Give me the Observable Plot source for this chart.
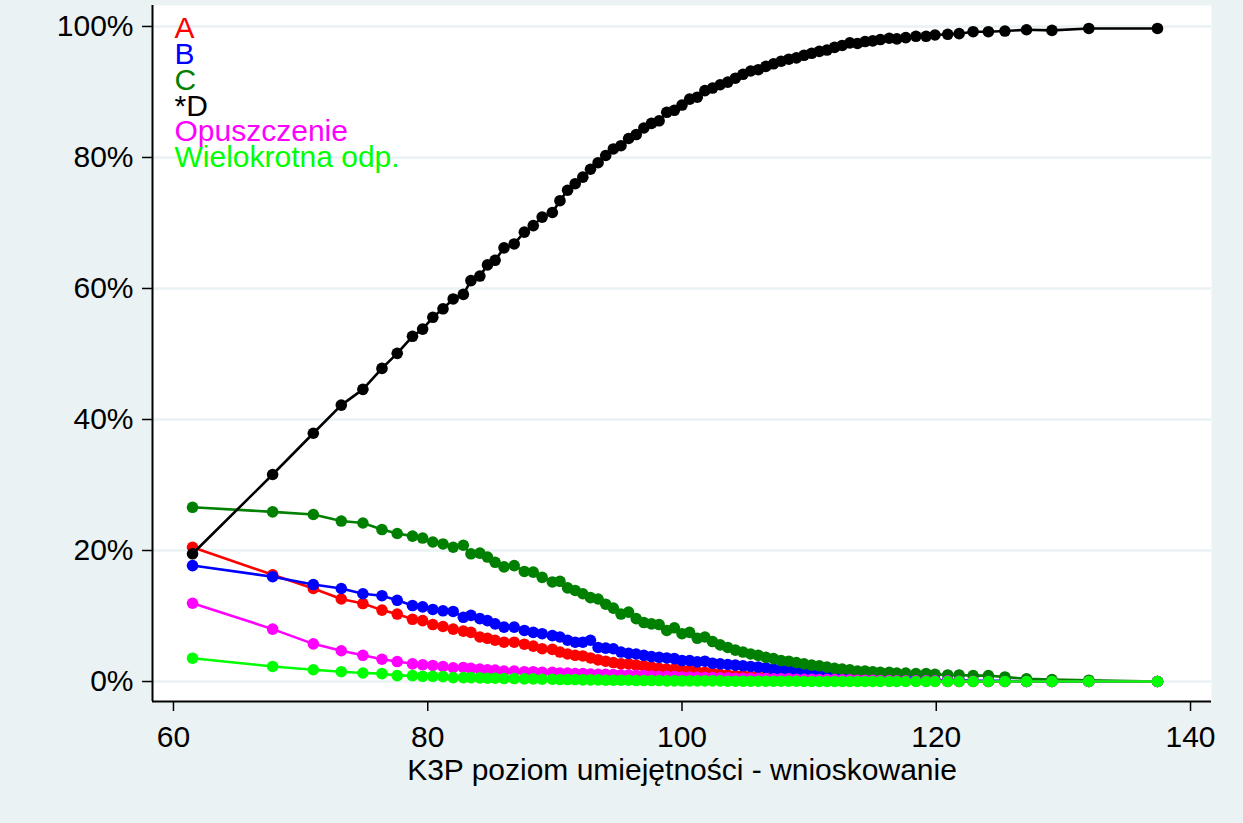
<!DOCTYPE html>
<html>
<head>
<meta charset="utf-8">
<script src="https://cdn.jsdelivr.net/npm/d3@7"></script>
<script src="https://cdn.jsdelivr.net/npm/@observablehq/plot@0.6"></script>
<style>
  html, body { margin: 0; padding: 0; background: #EAF2F3; overflow: hidden; }
</style>
</head>
<body>
<div id="chart"></div>
<script>
// Skill level (x) at which the response proportions were computed
const xs = [61.5, 67.8, 71.0, 73.2, 74.9, 76.4, 77.6, 78.8, 79.6, 80.4, 81.2, 82.0, 82.8, 83.4, 84.1, 84.7, 85.3, 86.0, 86.8, 87.6, 88.3, 89.0, 89.8, 90.4, 91.0, 91.6, 92.2, 92.8, 93.4, 94.0, 94.6, 95.2, 95.8, 96.4, 97.0, 97.6, 98.2, 98.8, 99.4, 100.0, 100.6, 101.2, 101.8, 102.4, 103.0, 103.6, 104.2, 104.8, 105.4, 106.0, 106.6, 107.2, 107.8, 108.4, 109.0, 109.6, 110.2, 110.8, 111.4, 112.0, 112.6, 113.2, 113.8, 114.4, 115.0, 115.6, 116.3, 116.9, 117.6, 118.4, 119.2, 119.9, 120.9, 121.8, 122.9, 124.1, 125.4, 127.1, 129.1, 132.0, 137.4];

// Percent choosing each option
const seriesA = [20.5, 16.3, 14.2, 12.6, 11.9, 10.9, 10.3, 9.5, 9.3, 8.7, 8.4, 8.0, 7.7, 7.5, 6.8, 6.6, 6.3, 6.0, 6.0, 5.7, 5.4, 5.0, 4.9, 4.5, 4.2, 4.0, 3.9, 3.6, 3.3, 3.1, 2.9, 2.7, 2.7, 2.5, 2.4, 2.2, 2.0, 1.9, 1.9, 1.7, 1.7, 1.5, 1.4, 1.3, 1.1, 1.0, 0.9, 0.9, 0.8, 0.7, 0.7, 0.6, 0.6, 0.5, 0.5, 0.4, 0.4, 0.4, 0.3, 0.3, 0.3, 0.2, 0.2, 0.2, 0.2, 0.1, 0.1, 0.1, 0.1, 0.1, 0.1, 0.1, 0.0, 0.0, 0.0, 0.0, 0.0, 0.0, 0.0, 0.0, 0.0];
const seriesB = [17.7, 16.0, 14.8, 14.2, 13.4, 13.1, 12.4, 11.6, 11.4, 11.0, 10.8, 10.7, 9.8, 10.1, 9.6, 9.3, 8.8, 8.3, 8.3, 7.8, 7.5, 7.3, 7.0, 6.8, 6.3, 6.0, 6.0, 6.3, 5.2, 5.1, 5.0, 4.5, 4.3, 4.2, 4.0, 3.8, 3.7, 3.6, 3.5, 3.2, 3.2, 3.0, 3.1, 2.8, 2.7, 2.6, 2.5, 2.4, 2.3, 2.2, 2.1, 1.9, 1.8, 1.8, 1.7, 1.6, 1.5, 1.4, 1.3, 1.2, 1.0, 0.9, 0.8, 0.7, 0.6, 0.5, 0.5, 0.4, 0.4, 0.3, 0.3, 0.2, 0.2, 0.2, 0.1, 0.1, 0.1, 0.0, 0.0, 0.0, 0.0];
const seriesC = [26.6, 25.9, 25.5, 24.5, 24.2, 23.2, 22.6, 22.2, 21.9, 21.3, 21.0, 20.5, 20.8, 19.5, 19.6, 19.0, 18.2, 17.5, 17.7, 16.8, 16.7, 15.9, 15.2, 15.3, 14.3, 13.9, 13.4, 12.8, 12.6, 11.8, 11.2, 10.3, 10.6, 9.6, 9.0, 8.8, 8.7, 7.8, 8.2, 7.3, 7.5, 6.6, 6.8, 6.1, 5.6, 5.2, 4.8, 4.5, 4.2, 4.0, 3.7, 3.5, 3.2, 3.1, 2.9, 2.7, 2.5, 2.4, 2.2, 2.0, 1.9, 1.8, 1.6, 1.6, 1.5, 1.4, 1.4, 1.3, 1.3, 1.2, 1.2, 1.1, 1.0, 1.0, 0.9, 0.9, 0.7, 0.4, 0.3, 0.2, 0.0];
const seriesD = [19.5, 31.6, 37.9, 42.2, 44.6, 47.8, 50.1, 52.7, 53.8, 55.6, 56.9, 58.4, 59.1, 61.2, 61.9, 63.6, 64.3, 66.2, 66.8, 68.6, 69.6, 70.9, 71.6, 73.4, 75.0, 76.0, 77.0, 78.2, 79.2, 80.3, 81.3, 81.8, 82.9, 83.5, 84.5, 85.2, 85.6, 86.9, 87.2, 88.0, 88.9, 89.2, 90.2, 90.6, 91.1, 91.5, 92.1, 92.7, 93.2, 93.4, 93.9, 94.3, 94.7, 95.0, 95.2, 95.6, 95.9, 96.2, 96.4, 96.8, 97.1, 97.5, 97.4, 97.7, 97.8, 98.0, 98.2, 98.1, 98.3, 98.5, 98.5, 98.7, 98.8, 98.9, 99.2, 99.2, 99.3, 99.5, 99.4, 99.7, 99.7];
const seriesOpuszczenie = [11.95, 8.0, 5.75, 4.7, 4.0, 3.4, 3.05, 2.7, 2.55, 2.45, 2.3, 2.1, 2.15, 2.0, 1.9, 1.8, 1.75, 1.6, 1.6, 1.5, 1.5, 1.4, 1.4, 1.3, 1.3, 1.2, 1.2, 1.15, 1.1, 1.1, 1.05, 1.0, 1.0, 0.95, 0.9, 0.85, 0.8, 0.8, 0.75, 0.7, 0.7, 0.65, 0.6, 0.6, 0.55, 0.55, 0.5, 0.5, 0.5, 0.45, 0.45, 0.4, 0.4, 0.4, 0.35, 0.35, 0.35, 0.3, 0.3, 0.3, 0.25, 0.25, 0.2, 0.2, 0.2, 0.15, 0.15, 0.1, 0.1, 0.1, 0.1, 0.1, 0.1, 0.05, 0.05, 0.0, 0.0, 0.0, 0.0, 0.0, 0.0];
const seriesWielokrotna = [3.56, 2.3, 1.8, 1.5, 1.3, 1.2, 0.9, 0.9, 0.8, 0.8, 0.75, 0.6, 0.6, 0.6, 0.55, 0.5, 0.5, 0.45, 0.45, 0.4, 0.4, 0.35, 0.35, 0.3, 0.3, 0.3, 0.25, 0.25, 0.25, 0.2, 0.2, 0.2, 0.2, 0.15, 0.15, 0.15, 0.15, 0.1, 0.1, 0.1, 0.1, 0.1, 0.1, 0.1, 0.1, 0.05, 0.05, 0.05, 0.05, 0.05, 0.05, 0.05, 0.05, 0.05, 0.05, 0.0, 0.0, 0.0, 0.0, 0.0, 0.0, 0.0, 0.0, 0.0, 0.0, 0.0, 0.0, 0.0, 0.0, 0.0, 0.0, 0.0, 0.0, 0.0, 0.0, 0.0, 0.0, 0.0, 0.0, 0.0, 0.0];

const seriesNames = ["A", "B", "C", "*D", "Opuszczenie", "Wielokrotna odp."];
const seriesColors = ["#FF0000", "#0000FF", "#008000", "#000000", "#FF00FF", "#00FF00"];
const seriesValues = [seriesA, seriesB, seriesC, seriesD, seriesOpuszczenie, seriesWielokrotna];

const xTicks = [60, 80, 100, 120, 140];
const yTicks = [0, 20, 40, 60, 80, 100];
const xLabel = "K3P poziom umiejętności - wnioskowanie";

const xDomain = [58.35, 141.65];
const yDomain = [-3.05, 103.2];

const tables = seriesValues.map((vals, i) =>
  xs.map((x, j) => ({ x, y: vals[j], series: seriesNames[i] }))
);

const seriesMarks = tables.flatMap((rows, i) => [
  Plot.line(rows, { x: "x", y: "y", stroke: seriesColors[i], strokeWidth: 2.6 }),
  Plot.dot(rows, { x: "x", y: "y", fill: seriesColors[i], r: 5.8, stroke: "none" })
]);

const legendMarks = seriesNames.map((name, i) =>
  Plot.text([name], {
    text: d => d,
    frameAnchor: "top-left",
    dx: 22,
    dy: 11 + i * 25.9,
    textAnchor: "start",
    lineAnchor: "top",
    fill: seriesColors[i],
    fontSize: 30
  })
);

const chart = Plot.plot({
  width: 1243,
  height: 823,
  marginLeft: 152,
  marginRight: 32,
  marginTop: 5,
  marginBottom: 122,
  style: {
    background: "#EAF2F3",
    fontFamily: "'Liberation Sans', Arial, sans-serif",
    fontSize: "30px",
    color: "black"
  },
  x: { domain: xDomain },
  y: { domain: yDomain },
  marks: [
    Plot.frame({ fill: "white", stroke: "none" }),
    Plot.ruleY(yTicks, { stroke: "#EAF2F3", strokeWidth: 2.5 }),
    ...seriesMarks,
    Plot.ruleX([xDomain[0]], { stroke: "black", strokeWidth: 2 }),
    Plot.ruleY([yDomain[0]], { stroke: "black", strokeWidth: 2 }),
    Plot.axisY(yTicks, { tickFormat: d => d + "%", tickSize: 10, tickPadding: 9, fontSize: 30, label: null, strokeWidth: 1.5 }),
    Plot.axisX(xTicks, { tickSize: 10, tickPadding: 14, fontSize: 30, label: null, strokeWidth: 1.5 }),
    Plot.text([xLabel], { text: d => d, frameAnchor: "bottom", dy: 78, lineAnchor: "bottom", textAnchor: "middle", fontSize: 30, fill: "black" }),
    ...legendMarks
  ]
});

document.getElementById("chart").appendChild(chart);
</script>
</body>
</html>
